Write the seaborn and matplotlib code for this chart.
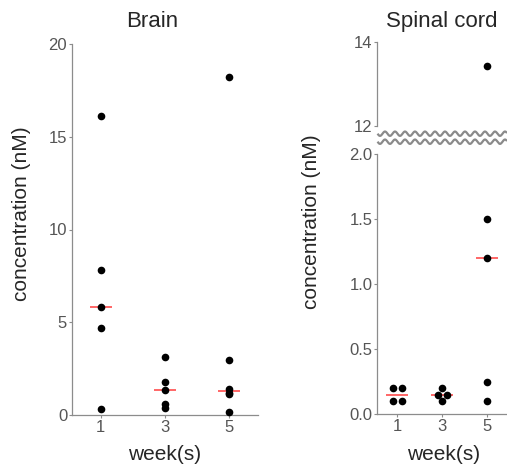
import numpy as np
import pandas as pd
import matplotlib
matplotlib.use("Agg")
import matplotlib.pyplot as plt
from matplotlib.lines import Line2D
from matplotlib.transforms import ScaledTranslation
import seaborn as sns

# ---------------- data ----------------
weeks = ["1", "3", "5"]

brain_week = ["1"] * 5 + ["3"] * 5 + ["5"] * 6
brain_conc = [16.1, 7.8, 5.8, 4.7, 0.3,
              3.1, 1.8, 1.35, 0.6, 0.38,
              18.2, 2.96, 1.42, 1.2, 1.15, 0.16]
brain_slot = [0] * 16

spinal_week = ["1"] * 4 + ["3"] * 4 + ["5"] * 5
spinal_conc = [0.2, 0.2, 0.1, 0.1,
               0.2, 0.15, 0.15, 0.1,
               13.43, 1.5, 1.2, 0.25, 0.1]
spinal_slot = [-1, 1, -1, 1,
               0, -1, 1, 0,
               0, 0, 0, 0, 0]

brain_yticks = [0, 5, 10, 15, 20]
spinal_low_yticks = [0.0, 0.5, 1.0, 1.5, 2.0]
spinal_high_yticks = [12, 14]

brain_df = pd.DataFrame({"week": brain_week, "conc": brain_conc, "slot": brain_slot})
spinal_df = pd.DataFrame({"week": spinal_week, "conc": spinal_conc, "slot": spinal_slot})

# ---------------- style ----------------
sns.set_style("white")
plt.rcParams["font.family"] = ["Liberation Sans", "DejaVu Sans"]

W, H = 507, 468
fig = plt.figure(figsize=(W / 100, H / 100), dpi=100)

def px_axes(left, top, right, bottom):
    return fig.add_axes([left / W, 1 - bottom / H, (right - left) / W, (bottom - top) / H])

ax_b = px_axes(72, 44, 258, 415)
ax_lo = px_axes(377.3, 154.3, 507, 414.3)
ax_hi = px_axes(377.3, 41.7, 507, 126)

SPINE = "#8c8c8c"
TICKLAB = "#555555"
MED = "#ff5a5a"
DOT_OFFSET_PX = 4.5


def draw_points(ax, df, clip=True):
    for slot in sorted(df["slot"].unique()):
        sub = df[df["slot"] == slot]
        n0 = len(ax.collections)
        sns.stripplot(data=sub, x="week", y="conc", order=weeks, jitter=False,
                      color="black", size=5.5, linewidth=0, ax=ax)
        shift = ScaledTranslation(slot * DOT_OFFSET_PX / 100, 0, fig.dpi_scale_trans)
        for coll in ax.collections[n0:]:
            coll.set_offset_transform(ax.transData + shift)
            coll.set_clip_on(clip)


def draw_median(ax, df):
    sns.pointplot(data=df, x="week", y="conc", order=weeks, estimator="median",
                  errorbar=None, color=MED, marker="_", linestyle="none",
                  markersize=15.5, markeredgewidth=1.3, ax=ax)


def style(ax, bottom=True):
    sns.despine(ax=ax, bottom=not bottom)
    for side in ["left", "bottom"]:
        ax.spines[side].set_color(SPINE)
        ax.spines[side].set_linewidth(0.9)
    ax.tick_params(axis="both", which="both", length=2.5, width=0.8, color=SPINE,
                   labelcolor=TICKLAB, labelsize=12, pad=1, direction="out",
                   left=True, bottom=bottom)
    ax.set_xlim(-0.45, 2.45)
    ax.set_facecolor("none")


# ---------------- Brain ----------------
draw_points(ax_b, brain_df, clip=False)
draw_median(ax_b, brain_df)
ax_b.set_ylim(0, 20)
ax_b.set_yticks(brain_yticks)
ax_b.set_yticklabels([str(v) for v in brain_yticks])
style(ax_b)
ax_b.set_xlabel("week(s)", fontsize=15)
ax_b.xaxis.set_label_coords(0.5, -0.082)
ax_b.set_ylabel("concentration (nM)", fontsize=15)
ax_b.yaxis.label.set_verticalalignment("center")
ax_b.yaxis.set_label_coords(-0.274, 0.542)
ax_b.set_title("Brain", fontsize=16, x=0.433, y=1.0466, pad=0)

# ---------------- Spinal cord (broken axis) ----------------
draw_points(ax_lo, spinal_df)
draw_median(ax_lo, spinal_df)
ax_lo.set_ylim(0, 2.0)
ax_lo.set_yticks(spinal_low_yticks)
ax_lo.set_yticklabels([f"{v:.1f}" for v in spinal_low_yticks])
style(ax_lo)
ax_lo.set_xlabel("week(s)", fontsize=15)
ax_lo.xaxis.set_label_coords(0.51, -0.119)
ax_lo.set_ylabel("concentration (nM)", fontsize=15)
ax_lo.yaxis.label.set_verticalalignment("center")
ax_lo.yaxis.set_label_coords(-0.511, 0.7396)

draw_points(ax_hi, spinal_df)
ax_hi.set_ylim(12, 14)
ax_hi.set_yticks(spinal_high_yticks)
ax_hi.set_yticklabels([str(v) for v in spinal_high_yticks])
style(ax_hi, bottom=False)
ax_hi.set_xticks([])
ax_hi.set_xlabel("")
ax_hi.set_ylabel("")
ax_hi.set_title("Spinal cord", fontsize=16, x=0.4965, y=1.178, pad=0)

# break marks (two wavy lines)
xs = np.linspace(377.5, 507, 400)
for yc in (133.7, 141.7):
    ys = yc + 2.2 * np.sin(2 * np.pi * (xs - 377.5) / 10.0)
    fig.add_artist(Line2D(xs / W, 1 - ys / H, transform=fig.transFigure,
                          color="#8a8a8a", lw=1.6, solid_capstyle="butt"))

fig.savefig("out.png", dpi=100)
